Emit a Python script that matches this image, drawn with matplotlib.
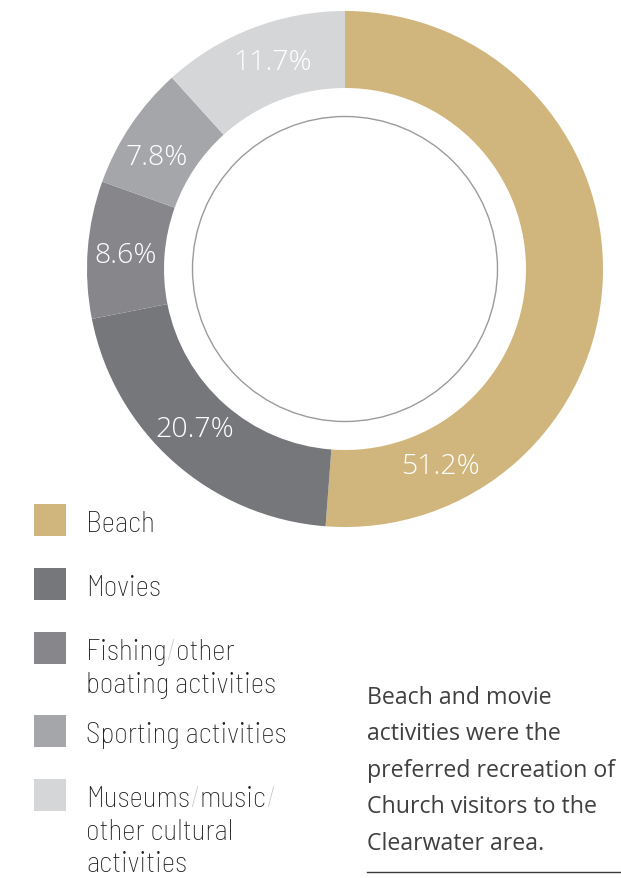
import numpy as np
import matplotlib
matplotlib.use("Agg")
import matplotlib.pyplot as plt
from matplotlib.patches import Rectangle, Circle

categories = ["Beach", "Movies", "Fishing/other\nboating activities",
              "Sporting activities", "Museums/music/\nother cultural\nactivities"]
shares = [51.2, 20.7, 8.6, 7.8, 11.7]
pct_labels = ["51.2%", "20.7%", "8.6%", "7.8%", "11.7%"]
colors = ["#D0B57C", "#76777B", "#87878B", "#A5A6A9", "#D5D6D8"]
# where the % label sits inside each wedge (0 = start, 1 = end)
label_frac = [0.836, 0.52, 0.48, 0.39, 0.54]
note = ("Beach and movie\nactivities were the\npreferred recreation of\n"
        "Church visitors to the\nClearwater area.")

LEGEND_FONT = ["Barlow Semi Condensed", "Barlow Condensed", "Roboto Condensed",
               "PT Sans Narrow", "Archivo Narrow", "Liberation Sans Narrow",
               "Roboto", "DejaVu Sans"]
BODY_FONT = ["Open Sans", "DejaVu Sans"]

W, H = 621, 879
fig = plt.figure(figsize=(W / 100, H / 100), dpi=100)


def fx(px):
    return px / W


def fy(py):
    return 1 - py / H


# donut
ax = fig.add_axes([fx(87), fy(528), fx(516), 516 / H])
ax.pie(shares, colors=colors, startangle=90, counterclock=False, radius=1,
       wedgeprops=dict(width=1 - 181 / 258, linewidth=0))
ax.add_patch(Circle((0, 0), 152.5 / 258, fill=False, ec="#9b9b9b", lw=1.0))
ax.set_xlim(-1, 1)
ax.set_ylim(-1, 1)
ax.set_aspect("equal")
ax.axis("off")

total = sum(shares)
start = 90.0
r_lab = 219.5 / 258
for v, lab, f in zip(shares, pct_labels, label_frac):
    span = v / total * 360
    ang = np.deg2rad(start - span * f)
    ax.text(r_lab * np.cos(ang), r_lab * np.sin(ang), lab, color="white",
            fontsize=20.5, ha="center", va="center", family=BODY_FONT,
            fontweight="light")
    start -= span

# legend: squares plus labels, slashes drawn in a light grey
sq_tops = [505, 569, 633, 716, 780]
line_gap = 32.7
txt_kw = dict(fontsize=21, family=LEGEND_FONT, fontweight="light")
for c, lab, t in zip(colors, categories, sq_tops):
    fig.patches.append(Rectangle((fx(34), fy(t + 32)), fx(32), 32 / H,
                                 transform=fig.transFigure, color=c, lw=0))
    for i, line in enumerate(lab.split("\n")):
        parts = line.split("/")
        prev = fig.text(fx(86), fy(t + 27 + i * line_gap), parts[0],
                        color="#1e1e1e", va="baseline", ha="left", **txt_kw)
        pieces = []
        for p in parts[1:]:
            pieces += [("/", "#c9c9c9"), (p, "#1e1e1e")]
        for s, col in pieces:
            if not s:
                continue
            prev = ax.annotate(s, xy=(1, 0), xycoords=prev, color=col,
                               ha="left", va="bottom", annotation_clip=False,
                               **txt_kw)

# note with rule underneath
fig.text(fx(367), fy(686), note, fontsize=16.7, color="#404040",
         family=BODY_FONT, va="top", ha="left", linespacing=1.69)
fig.add_artist(plt.Line2D([fx(367), fx(620)], [fy(873), fy(873)],
                          transform=fig.transFigure, color="#3a3a3a", lw=1))

fig.savefig("out.png", dpi=100)
